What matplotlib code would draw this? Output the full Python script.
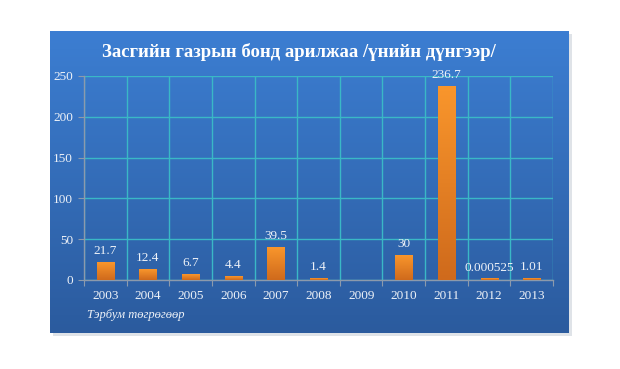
import numpy as np
import matplotlib
matplotlib.use("Agg")
import matplotlib.pyplot as plt
from matplotlib.colors import LinearSegmentedColormap

YEARS = ["2003", "2004", "2005", "2006", "2007", "2008", "2009", "2010", "2011", "2012", "2013"]
VALUES = [21.7, 12.4, 6.7, 4.4, 39.5, 1.4, np.nan, 30, 236.7, 0.000525, 1.01]
LABELS = ["21.7", "12.4", "6.7", "4.4", "39.5", "1.4", "", "30", "236.7", "0.000525", "1.01"]
TITLE = "Засгийн газрын бонд арилжаа /үнийн дүнгээр/"
UNIT = "Тэрбум төгрөгөөр"

W, H = 620, 369
fig = plt.figure(figsize=(W / 100, H / 100), dpi=100)
fig.patch.set_facecolor("white")

# soft shadow behind the card
shadow = fig.add_axes([53 / W, 1 - 336 / H, (572 - 53) / W, (336 - 34) / H])
shadow.set_facecolor("#d8dde4")
shadow.set_axis_off()
shadow.add_patch(plt.Rectangle((0, 0), 1, 1, transform=shadow.transAxes,
                               color="#dfe3e8", zorder=0))

# card background with vertical gradient
card = fig.add_axes([50 / W, 1 - 333 / H, (569 - 50) / W, (333 - 31) / H])
card_cmap = LinearSegmentedColormap.from_list("card", ["#3c7ed2", "#2b5b9e"])
card.imshow(np.linspace(0, 1, 256).reshape(-1, 1), aspect="auto", cmap=card_cmap,
            extent=[0, 1, 0, 1])
card.set_axis_off()

card.text((299 - 50) / (569 - 50), (333 - 52) / (333 - 31), TITLE, transform=card.transAxes,
          ha="center", va="center", color="white", fontsize=13.5, fontweight="bold",
          family="Liberation Serif")
card.text((87 - 50) / (569 - 50), (333 - 315) / (333 - 31), UNIT, transform=card.transAxes,
          ha="left", va="center", color="#eef2f8", fontsize=9, style="italic",
          family="Liberation Serif")

ax = fig.add_axes([84 / W, 1 - 280 / H, (553 - 84) / W, (280 - 76) / H])
ax.patch.set_alpha(0)
x = np.arange(len(YEARS))

bar_cmap = LinearSegmentedColormap.from_list("bar", ["#cf6a1c", "#f9962c"])
bars = ax.bar(x, VALUES, width=0.4, color="none", edgecolor="none", zorder=3)
grad = np.linspace(0, 1, 128).reshape(-1, 1)
for b, v in zip(bars, VALUES):
    if np.isnan(v):
        continue
    x0, w = b.get_x(), b.get_width()
    top = max(v, 1.6)  # keep tiny bars visible as a thin line
    ax.imshow(grad, cmap=bar_cmap, origin="lower", aspect="auto",
              extent=[x0, x0 + w, 0, top], zorder=3)
ax.set_xlim(-0.5, len(YEARS) - 0.5)
ax.set_ylim(0, 250)

for xi, v, lab in zip(x, VALUES, LABELS):
    if not lab:
        continue
    ax.text(xi, v + 7, lab, ha="center", va="bottom", color="#eef2f8", fontsize=9.5,
            family="Liberation Serif", zorder=4)

ax.set_yticks(np.arange(0, 251, 50))
ax.set_xticks(np.arange(-0.5, len(YEARS), 1.0))
ax.set_xticklabels([])
ax.set_xticks(x, minor=True)
ax.set_xticklabels(YEARS, minor=True)
ax.tick_params(axis="x", which="major", length=4, color="#8c9aac", direction="out")
ax.tick_params(axis="x", which="minor", length=0, pad=7, labelsize=9.5, labelcolor="#eef2f8")
ax.tick_params(axis="y", length=4, color="#8c9aac", labelsize=9.5, labelcolor="#eef2f8", pad=4)
for lab in ax.get_xticklabels(minor=True) + ax.get_yticklabels():
    lab.set_family("Liberation Serif")

ax.grid(True, which="major", color="#3ab8c6", linewidth=1.0, zorder=1)
ax.set_axisbelow(True)
for side in ["top", "right"]:
    ax.spines[side].set_visible(False)
for side in ["left", "bottom"]:
    ax.spines[side].set_color("#8c9aac")
    ax.spines[side].set_linewidth(1.0)

fig.savefig("out.png", dpi=100)
